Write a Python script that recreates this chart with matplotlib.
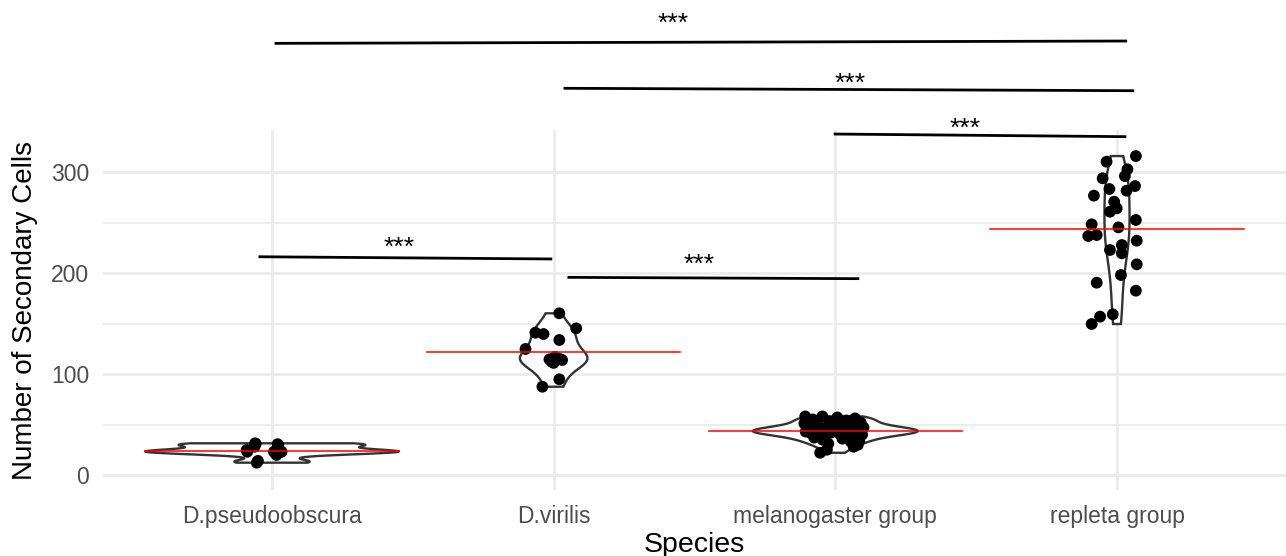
import numpy as np
import matplotlib
matplotlib.use("Agg")
import matplotlib.pyplot as plt
from matplotlib.ticker import FixedLocator

plt.rcParams['font.family'] = ['Liberation Sans', 'DejaVu Sans']

# ---------------- data ----------------
species = ["D.pseudoobscura", "D.virilis", "melanogaster group", "repleta group"]

pseudo_vals = [31.4, 24.8, 12.2, 29.7, 23.0, 23.0, 19.8, 23.0, 23.2, 30.5, 28.0, 14.0, 23.0, 30.8]
pseudo_jit = [-0.06, -0.09, -0.054, 0.022, 0.007, 0.034, 0.016, -0.088, 0.03, 0.02, -0.062, -0.05,
              0.01, -0.058]

virilis_vals = [160.1, 145.2, 140.9, 139.6, 133.7, 124.8, 117.0, 114.5, 113.9,
                112.2, 115.0, 111.0, 94.8, 87.4]
virilis_jit = [0.02, 0.08, -0.065, -0.036, 0.02, -0.10, 0.005, -0.015, 0.03,
               -0.007, 0.02, 0.0, 0.02, -0.04]

melano_vals = [58, 58, 57, 56, 55, 54, 53, 52, 51, 50,
               49, 48, 47, 47, 46, 46, 45, 45, 44, 44,
               44, 43, 43, 43, 42, 42, 41, 41, 40, 40,
               39, 38, 37, 36, 35, 34, 33, 31, 30, 28, 25, 22]
melano_jit = [-0.107, -0.046, 0.007, 0.07, -0.08, 0.04, -0.02, 0.09, -0.11, 0.02,
              -0.06, 0.06, -0.03, 0.10, -0.09, 0.01, 0.05, -0.07, -0.01, 0.08,
              -0.04, 0.03, -0.105, 0.075, -0.015, 0.045, -0.085, 0.015, -0.055, 0.095,
              -0.035, 0.065, -0.075, 0.025, -0.045, 0.085, 0.055, -0.025, 0.08, 0.065,
              -0.03, -0.054]

repleta_vals = [315.8, 310.2, 302.7, 296.0, 293.8, 286.1, 281.5, 283.2, 276.6, 270.6,
                264.0, 260.7, 252.5, 248.2, 245.2, 236.6, 237.6, 232.0, 222.8, 227.7,
                219.5, 208.6, 198.0, 190.4, 182.5, 156.8, 149.5, 159.1]
repleta_jit = [0.067, -0.037, 0.037, 0.028, -0.051, 0.064, 0.034, -0.027, -0.082, -0.010,
               -0.001, -0.025, 0.067, -0.090, 0.005, -0.102, -0.072, 0.070, -0.025, 0.017,
               0.017, 0.070, 0.014, -0.072, 0.067, -0.060, -0.090, -0.015]

# significance brackets: (x start, x end, y start, y end)
sig_x1 = [1.014, 2.040, 2.999, 0.957, 2.054]
sig_x2 = [4.031, 4.056, 4.028, 1.990, 3.080]
sig_y1 = [427.4, 382.9, 337.6, 216.1, 195.7]
sig_y2 = [429.7, 380.5, 335.0, 213.9, 194.4]
star_x = [2.423, 3.052, 3.46, 1.451, 2.516]
star_y = [439.6, 380.7, 335.6, 217.5, 201.3]
star_label = ["***", "***", "***", "***", "***"]

y_ticks = [0, 100, 200, 300]
y_minor = [50, 150, 250]

groups_vals = [pseudo_vals, virilis_vals, melano_vals, repleta_vals]
groups_jit = [pseudo_jit, virilis_jit, melano_jit, repleta_jit]


def nrd0(x):
    x = np.asarray(x, float)
    hi = np.std(x, ddof=1)
    q75, q25 = np.percentile(x, [75, 25])
    lo = min(hi, (q75 - q25) / 1.34)
    if lo <= 0:
        lo = hi if hi > 0 else 1.0
    return 0.9 * lo * len(x) ** (-0.2)


def kde(x, grid):
    x = np.asarray(x, float)
    bw = nrd0(x)
    z = (grid[:, None] - x[None, :]) / bw
    return np.exp(-0.5 * z ** 2).sum(axis=1) / (len(x) * bw * np.sqrt(2 * np.pi))


# ---------------- figure ----------------
W, H = 1286, 556
fig = plt.figure(figsize=(W / 100, H / 100), dpi=100)
ax = fig.add_axes([103 / W, (H - 490) / H, (W - 103) / W, (490 - 130) / H])
ax.set_xlim(0.4, 4.6)
ax.set_ylim(-14.85, 341.6)

for s in ax.spines.values():
    s.set_visible(False)

grid_col = "#EBEBEB"
for y in y_ticks:
    ax.axhline(y, color=grid_col, lw=2.0, zorder=0)
for y in y_minor:
    ax.axhline(y, color=grid_col, lw=1.3, zorder=0)
for i in range(len(species)):
    ax.axvline(i + 1, color=grid_col, lw=2.0, zorder=0)

# violins (scale = "area")
grids, dens = [], []
for v in groups_vals:
    g = np.linspace(min(v), max(v), 512)
    grids.append(g)
    dens.append(kde(v, g))
dmax = max(d.max() for d in dens)
for i, (g, d) in enumerate(zip(grids, dens)):
    hw = 0.45 * d / dmax
    xs = np.concatenate([i + 1 - hw, (i + 1 + hw)[::-1], [i + 1 - hw[0]]])
    ys = np.concatenate([g, g[::-1], [g[0]]])
    ax.fill(xs, ys, facecolor="white", edgecolor="#333333", lw=1.7, zorder=2)

# jittered points
for i, (v, j) in enumerate(zip(groups_vals, groups_jit)):
    ax.scatter(np.array(j) + i + 1, v, s=72, color="black", edgecolors="none", zorder=3)

# mean lines
for i, v in enumerate(groups_vals):
    m = np.mean(v)
    ax.plot([i + 1 - 0.45, i + 1 + 0.45], [m, m], color="#FF0000", lw=1.1, zorder=4)

# significance annotations
for x1, x2, y1, y2 in zip(sig_x1, sig_x2, sig_y1, sig_y2):
    ax.plot([x1, x2], [y1, y2], color="black", lw=2.0, clip_on=False, zorder=5)
for x, y, t in zip(star_x, star_y, star_label):
    ax.text(x, y, t, ha="center", va="baseline", fontsize=19, color="black",
            clip_on=False, zorder=5)

ax.xaxis.set_major_locator(FixedLocator(range(1, len(species) + 1)))
ax.set_xticklabels(species)
ax.yaxis.set_major_locator(FixedLocator(y_ticks))
ax.tick_params(axis="both", length=0, labelsize=16.5, labelcolor="#4D4D4D")
ax.tick_params(axis="y", pad=10)
ax.tick_params(axis="x", pad=11)
ax.set_xlabel("Species", fontsize=20.5, color="black", labelpad=3)
ax.set_ylabel("Number of Secondary Cells", fontsize=20, color="black", labelpad=9)

fig.savefig("out.png", dpi=100, facecolor="white")
